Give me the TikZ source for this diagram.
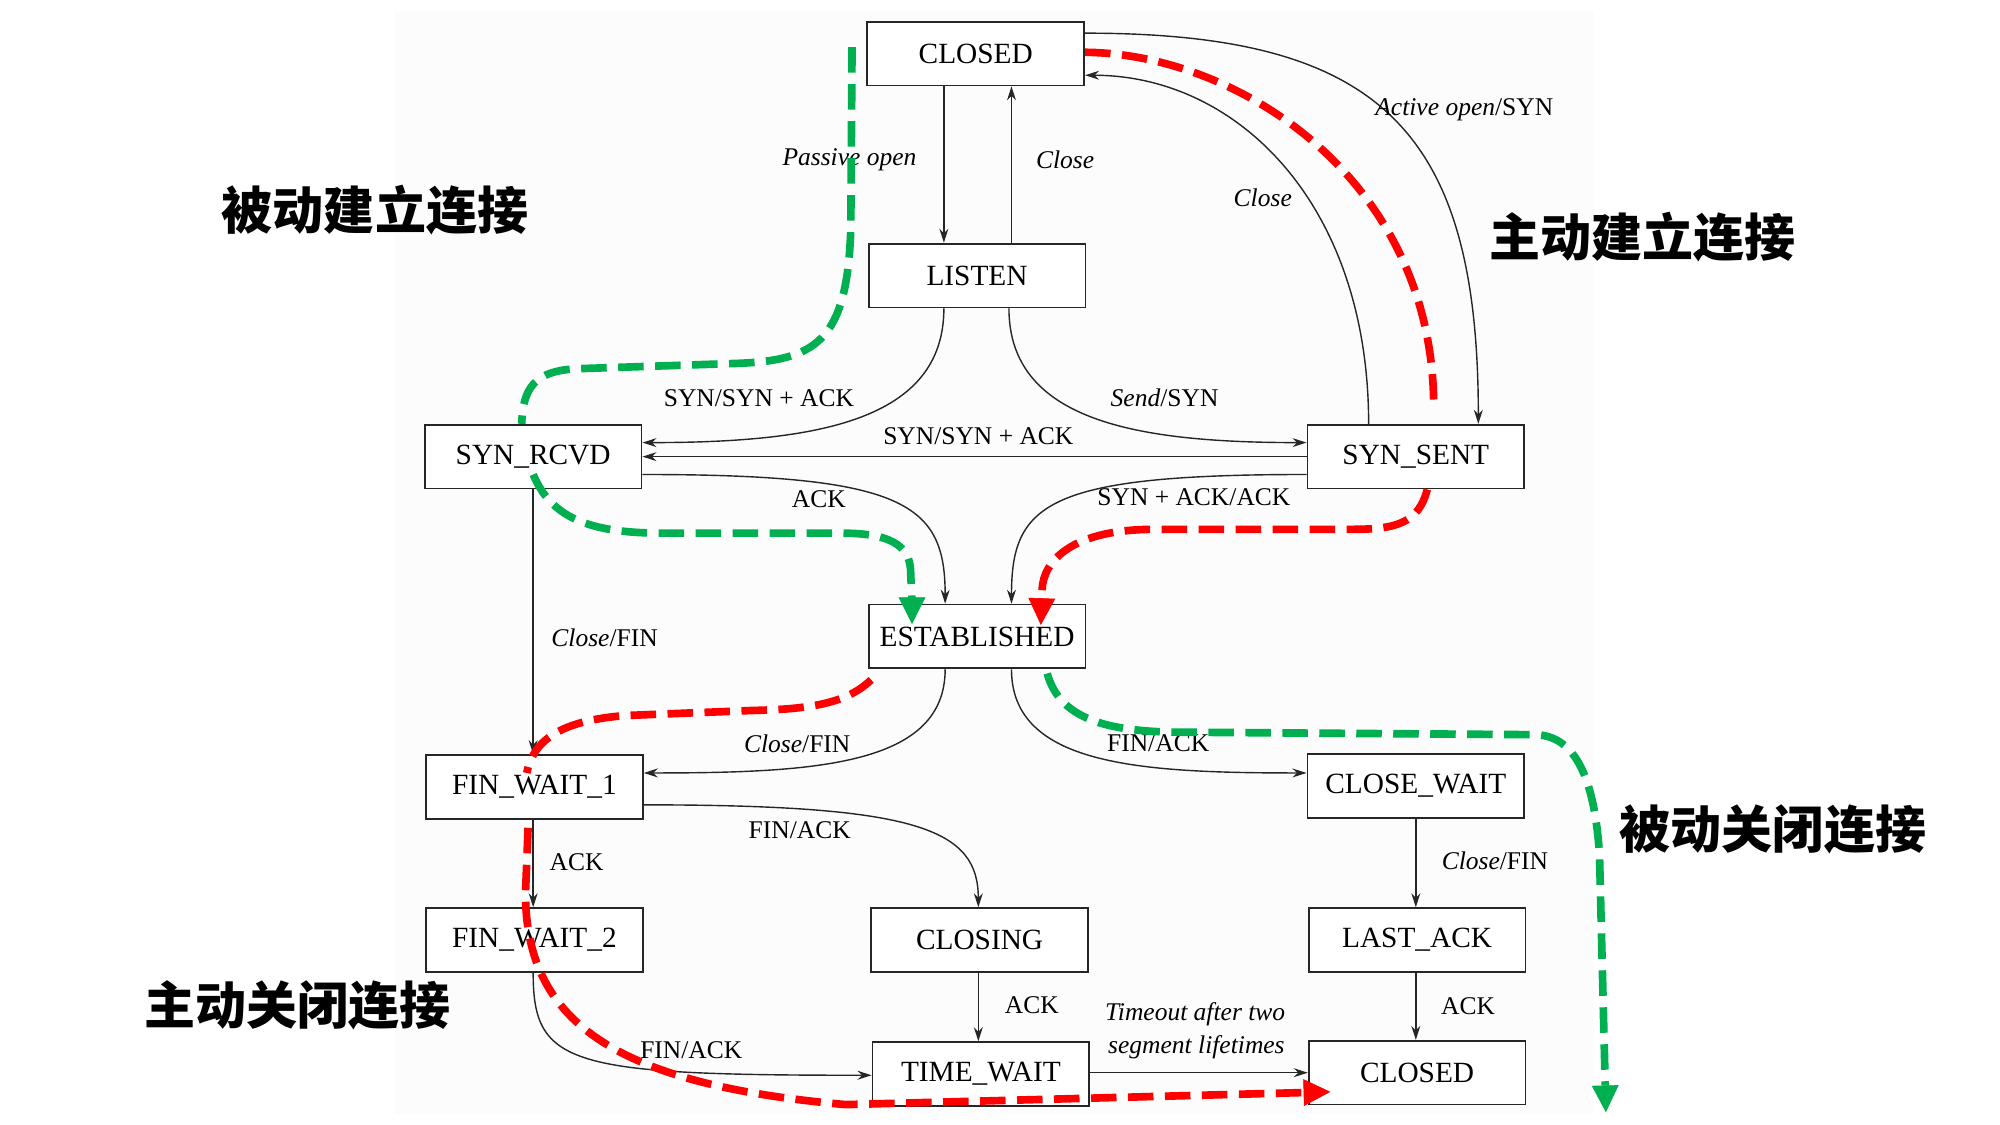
\documentclass[tikz,border=0pt]{standalone}
\usepackage{fontspec}
\setmainfont{Liberation Serif}
\newfontfamily\cjkfont{Noto Sans CJK SC}
\usetikzlibrary{arrows.meta,calc}
\definecolor{pgreen}{HTML}{00B050}
\definecolor{pred}{HTML}{FF0000}
\begin{document}
\begin{tikzpicture}[x=1pt,y=-1pt,
  state/.style={draw=black!85,line width=1.4pt,fill=white,minimum width=170pt,minimum height=50pt,inner sep=0pt,font=\fontsize{23}{26}\selectfont},
  conn/.style={draw=black!85,line width=1.1pt,-{Stealth[length=11pt,width=7pt]}},
  lab/.style={font=\fontsize{20}{22}\selectfont,inner sep=0pt},
  cn/.style={font=\cjkfont\bfseries\fontsize{40}{44}\selectfont,inner sep=0pt},
  gpath/.style={draw=pgreen,line width=6pt,dash pattern=on 20pt off 9pt},
  rpath/.style={draw=pred,line width=6pt,dash pattern=on 20pt off 9pt},
  bigtip/.style={-{Triangle[length=21pt,width=21pt,line width=0.5pt]}}
]
\useasboundingbox (0,0) rectangle (1568,882);
\fill[black!1] (310,9) rectangle (1250,873);

% states
\node[state] (closedtop) at (765,42) {CLOSED};
\node[state] (listen) at (766,216) {LISTEN};
\node[state] (synrcvd) at (418,358) {SYN\_RCVD};
\node[state] (synsent) at (1110,358) {SYN\_SENT};
\node[state] (estab) at (766,499) {ESTABLISHED};
\node[state] (fw1) at (419,617) {FIN\_WAIT\_1};
\node[state] (closewait) at (1110,616) {CLOSE\_WAIT};
\node[state] (fw2) at (419,737) {FIN\_WAIT\_2};
\node[state] (closing) at (768,737) {CLOSING};
\node[state] (lastack) at (1111,737) {LAST\_ACK};
\node[state] (timewait) at (769,842) {TIME\_WAIT};
\node[state] (closedbot) at (1111,841) {CLOSED};

% connectors
\draw[conn] (closedtop.south -| 740,0) -- (listen.north -| 740,0);
\draw[conn] (listen.north -| 793,0) -- (closedtop.south -| 793,0);
\draw[conn] (closedtop.east |- 0,26) .. controls (1080,26) and (1159,100) .. (synsent.north -| 1159,0);
\draw[conn] (synsent.north -| 1073,0) .. controls (1073,160) and (970,59) .. (closedtop.east |- 0,59);
\draw[conn] (listen.south -| 740,0) .. controls (740,330) and (640,347) .. (synrcvd.east |- 0,347);
\draw[conn] (listen.south -| 791,0) .. controls (791,330) and (891,347) .. (synsent.west |- 0,347);
\draw[conn] (synsent.west) -- (synrcvd.east);
\draw[conn] (synrcvd.east |- 0,372) .. controls (710,372) and (741,395) .. (estab.north -| 741,0);
\draw[conn] (synsent.west |- 0,372) .. controls (820,372) and (793,395) .. (estab.north -| 793,0);
\draw[conn] (synrcvd.south -| 418,0) -- (fw1.north -| 418,0);
\draw[conn] (estab.south -| 741,0) .. controls (741,600) and (640,606) .. (fw1.east |- 0,606);
\draw[conn] (estab.south -| 793,0) .. controls (793,600) and (893,606) .. (closewait.west |- 0,606);
\draw[conn] (fw1.south -| 418,0) -- (fw2.north -| 418,0);
\draw[conn] (fw1.east |- 0,631) .. controls (720,631) and (767,650) .. (closing.north -| 767,0);
\draw[conn] (closewait.south -| 1110,0) -- (lastack.north -| 1110,0);
\draw[conn] (fw2.south -| 418,0) .. controls (418,835) and (445,843) .. (timewait.west |- 0,843);
\draw[conn] (closing.south -| 767,0) -- (timewait.north -| 767,0);
\draw[conn] (timewait.east |- 0,841) -- (closedbot.west |- 0,841);
\draw[conn] (lastack.south -| 1110,0) -- (closedbot.north -| 1110,0);

% labels
\node[lab] (l1) at (666,125) {\textit{Passive open}};
\node[lab] (l2) at (835,125) {\textit{Close}};
\node[lab] (l3) at (1148,86) {\textit{Active open}/SYN};
\node[lab] (l4) at (990,155) {\textit{Close}};
\node[lab] (l5) at (595,312) {SYN/SYN + ACK};
\node[lab] (l6) at (913,312) {\textit{Send}/SYN};
\node[lab] (l7) at (767,342) {SYN/SYN + ACK};
\node[lab] (l8) at (642,391) {ACK};
\node[lab] (l9) at (936,390) {SYN + ACK/ACK};
\node[lab] (l10) at (474,500) {\textit{Close}/FIN};
\node[lab] (l11) at (625,583) {\textit{Close}/FIN};
\node[lab] (l12) at (908,583) {FIN/ACK};
\node[lab] (l13) at (452,676) {ACK};
\node[lab] (l14) at (627,651) {FIN/ACK};
\node[lab] (l15) at (1172,675) {\textit{Close}/FIN};
\node[lab] (l16) at (542,823) {FIN/ACK};
\node[lab] (l17) at (809,788) {ACK};
\node[lab] (l18) at (937,795) {\textit{Timeout after two}};
\node[lab] (l19) at (938,821) {\textit{segment lifetimes}};
\node[lab] (l20) at (1151,789) {ACK};

% chinese labels
\node[cn] (c1) at (294,165) {被动建立连接};
\node[cn] (c2) at (1288,186) {主动建立连接};
\node[cn] (c3) at (1390,650) {被动关闭连接};
\node[cn] (c4) at (233,788) {主动关闭连接};

% passive open (green)
\coordinate (g1s) at (668,37);
\draw[gpath] (g1s) -- (667,180) .. controls (664,268) and (640,283) .. (575,285) -- (455,289) .. controls (418,290) and (410,305) .. (synrcvd.north -| 409,0);
\draw[gpath,bigtip] (418,372) .. controls (432,405) and (460,418) .. (520,418) -- (660,418) .. controls (705,418) and (714,432) .. (714,450) -- (estab.north -| 715,0) -- ++(0,16);
% active open (red)
\draw[rpath] (closedtop.east |- 0,41) .. controls (970,42) and (1124,140) .. (1124,319);
\draw[rpath,bigtip] (synsent.south -| 1119,0) .. controls (1112,410) and (1095,415) .. (1060,415) -- (905,415) .. controls (840,415) and (818,440) .. (817,462) -- (816,490);
% active close (red)
\draw[rpath] (683,533) .. controls (665,550) and (640,556) .. (590,557) -- (490,561) .. controls (440,565) and (418,580) .. (413,606);
\draw[rpath,bigtip] (414,649) -- (412,700) .. controls (412,800) and (480,850) .. (663,866) -- (1043,856);
% passive close (green)
\draw[gpath,bigtip] (821,528) .. controls (830,560) and (860,573) .. (920,574) -- (1204,576) .. controls (1235,577) and (1250,610) .. (1254,670) -- (1259,872);
\end{tikzpicture}
\end{document}
